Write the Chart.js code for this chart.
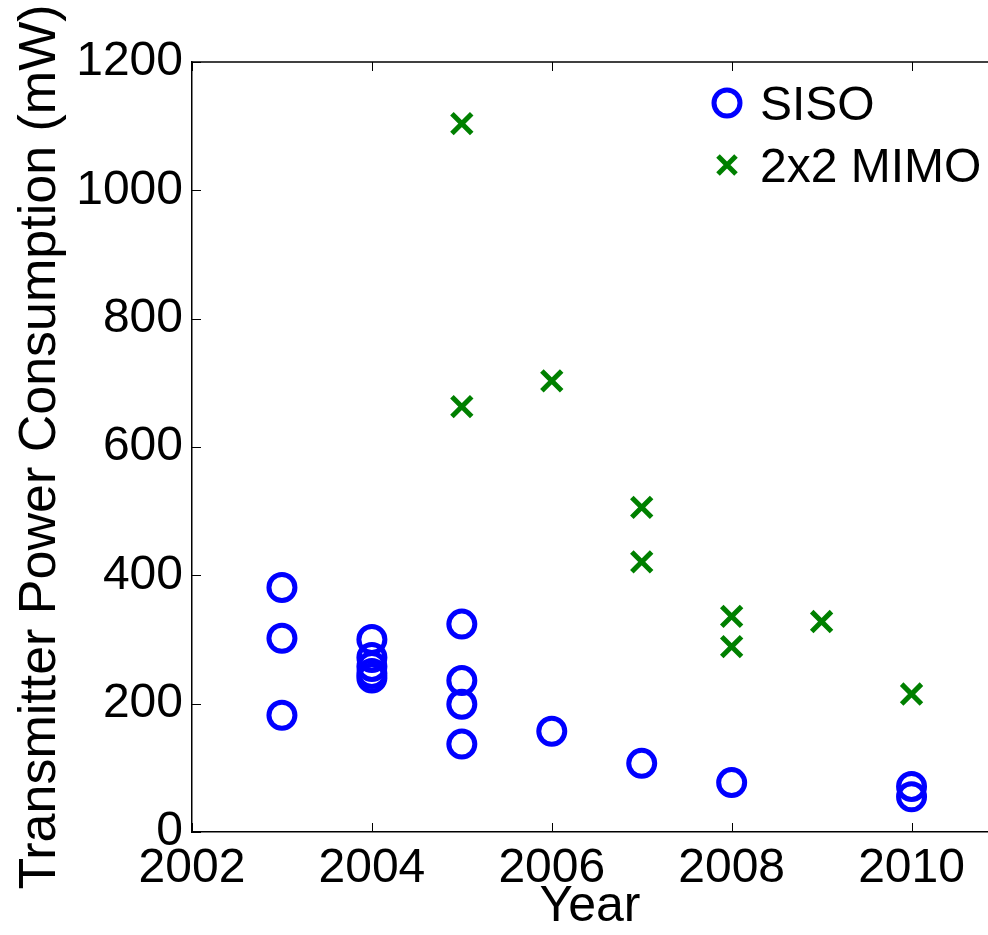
<!DOCTYPE html>
<html>
<head>
<meta charset="utf-8">
<title>Transmitter Power Consumption</title>
<script src="https://cdn.jsdelivr.net/npm/chart.js@4.4.1/dist/chart.umd.min.js"></script>
<style>
    html, body { margin: 0; padding: 0; background: #fff; }
    #wrap { width: 988px; height: 935px; position: relative; }
</style>
</head>
<body>
<div id="wrap"><canvas id="graph"></canvas></div>
<script>
const SISO_YEARS = [2003, 2003, 2003, 2004, 2004, 2004, 2004, 2004, 2005, 2005, 2005, 2005, 2006, 2007, 2008, 2010, 2010];
const SISO_POWER = [381, 302, 182, 300, 272, 258, 247, 240, 324, 236, 199, 137, 157, 107, 77, 71, 55];

const MIMO_YEARS = [2005, 2005, 2006, 2007, 2007, 2008, 2008, 2009, 2010];
const MIMO_POWER = [1104, 663, 703, 506, 421, 336, 289, 328, 215];

const X_TICKS = [2002, 2004, 2006, 2008, 2010];
const Y_TICKS = [0, 200, 400, 600, 800, 1000, 1200];

const LABELS = {
    siso: 'SISO',
    mimo: '2x2 MIMO',
    x: 'Year',
    y: 'Transmitter Power Consumption (mW)'
};

const BLUE = '#0000ff';
const GREEN = '#008000';
const FONT = '"Liberation Sans", Arial, sans-serif';

Chart.defaults.font.family = FONT;
Chart.defaults.color = '#000';

function toPoints(xs, ys) {
    return xs.map((x, i) => ({ x: x, y: ys[i] }));
}

// MATLAB style: ticks pointing inward, top box line, legend inside the axes
const matlabAxes = {
    id: 'matlabAxes',
    afterDraw(chart) {
        const { ctx, chartArea } = chart;
        const xs = chart.scales.x;
        const ys = chart.scales.y;
        const len = 9;
        ctx.save();
        ctx.strokeStyle = '#000';
        ctx.lineWidth = 1.5;
        ctx.beginPath();
        ctx.moveTo(chartArea.left, chartArea.top);
        ctx.lineTo(chartArea.right, chartArea.top);
        ctx.stroke();

        ctx.lineWidth = 1;
        ctx.beginPath();
        X_TICKS.forEach(v => {
            const px = Math.round(xs.getPixelForValue(v)) + 0.5;
            ctx.moveTo(px, chartArea.bottom);
            ctx.lineTo(px, chartArea.bottom - len);
            ctx.moveTo(px, chartArea.top);
            ctx.lineTo(px, chartArea.top + len);
        });
        Y_TICKS.forEach(v => {
            const py = Math.round(ys.getPixelForValue(v)) + 0.5;
            ctx.moveTo(chartArea.left, py);
            ctx.lineTo(chartArea.left + len, py);
        });
        ctx.stroke();

        // legend
        const lx = chartArea.right - 261;
        const tx = chartArea.right - 228;
        const r1 = chartArea.top + 41;
        const r2 = chartArea.top + 103;
        ctx.lineWidth = 5;
        ctx.strokeStyle = BLUE;
        ctx.beginPath();
        ctx.arc(lx, r1, 13, 0, Math.PI * 2);
        ctx.stroke();
        ctx.strokeStyle = GREEN;
        ctx.beginPath();
        ctx.moveTo(lx - 9, r2 - 9);
        ctx.lineTo(lx + 9, r2 + 9);
        ctx.moveTo(lx - 9, r2 + 9);
        ctx.lineTo(lx + 9, r2 - 9);
        ctx.stroke();
        ctx.fillStyle = '#000';
        ctx.font = '48px ' + FONT;
        ctx.textBaseline = 'alphabetic';
        ctx.textAlign = 'left';
        ctx.fillText(LABELS.siso, tx, r1 + 17);
        ctx.fillText(LABELS.mimo, tx, r2 + 17);
        ctx.restore();
    }
};

const chart = new Chart(document.getElementById('graph'), {
    type: 'scatter',
    data: {
        datasets: [
            {
                label: LABELS.siso,
                data: toPoints(SISO_YEARS, SISO_POWER),
                pointStyle: 'circle',
                pointRadius: 13,
                pointHoverRadius: 13,
                borderWidth: 5,
                borderColor: BLUE,
                backgroundColor: 'rgba(0,0,0,0)'
            },
            {
                label: LABELS.mimo,
                data: toPoints(MIMO_YEARS, MIMO_POWER),
                pointStyle: 'crossRot',
                pointRadius: 14,
                pointHoverRadius: 14,
                borderWidth: 5,
                borderColor: GREEN,
                backgroundColor: GREEN
            }
        ]
    },
    options: {
        responsive: true,
        maintainAspectRatio: false,
        animation: false,
        layout: { autoPadding: false, padding: { top: 62, right: 0, left: 0, bottom: 0 } },
        plugins: {
            legend: { display: false },
            tooltip: { enabled: false }
        },
        scales: {
            x: {
                type: 'linear',
                min: 2002,
                max: 2010.85,
                afterBuildTicks: scale => { scale.ticks = X_TICKS.map(v => ({ value: v })); },
                afterFit: scale => {
                    scale.height = 103;
                    scale.paddingLeft = 0;
                    scale.paddingRight = 0;
                },
                grid: { display: false, drawTicks: false },
                border: { display: true, color: '#000', width: 1.5 },
                ticks: {
                    padding: 8,
                    maxRotation: 0,
                    font: { size: 48 },
                    callback: v => String(v)
                },
                title: {
                    display: true,
                    text: LABELS.x,
                    font: { size: 50 },
                    padding: { top: 0, bottom: -2 }
                }
            },
            y: {
                min: 0,
                max: 1200,
                afterBuildTicks: scale => { scale.ticks = Y_TICKS.map(v => ({ value: v })); },
                afterFit: scale => {
                    scale.width = 192;
                    scale.paddingTop = 0;
                    scale.paddingBottom = 0;
                },
                grid: { display: false, drawTicks: false },
                border: { display: true, color: '#000', width: 1.5 },
                ticks: {
                    padding: 9,
                    font: { size: 48 },
                    callback: v => String(v)
                },
                title: {
                    display: true,
                    text: LABELS.y,
                    font: { size: 52 },
                    padding: { top: 9, bottom: 0 }
                }
            }
        }
    },
    plugins: [matlabAxes]
});
</script>
</body>
</html>
